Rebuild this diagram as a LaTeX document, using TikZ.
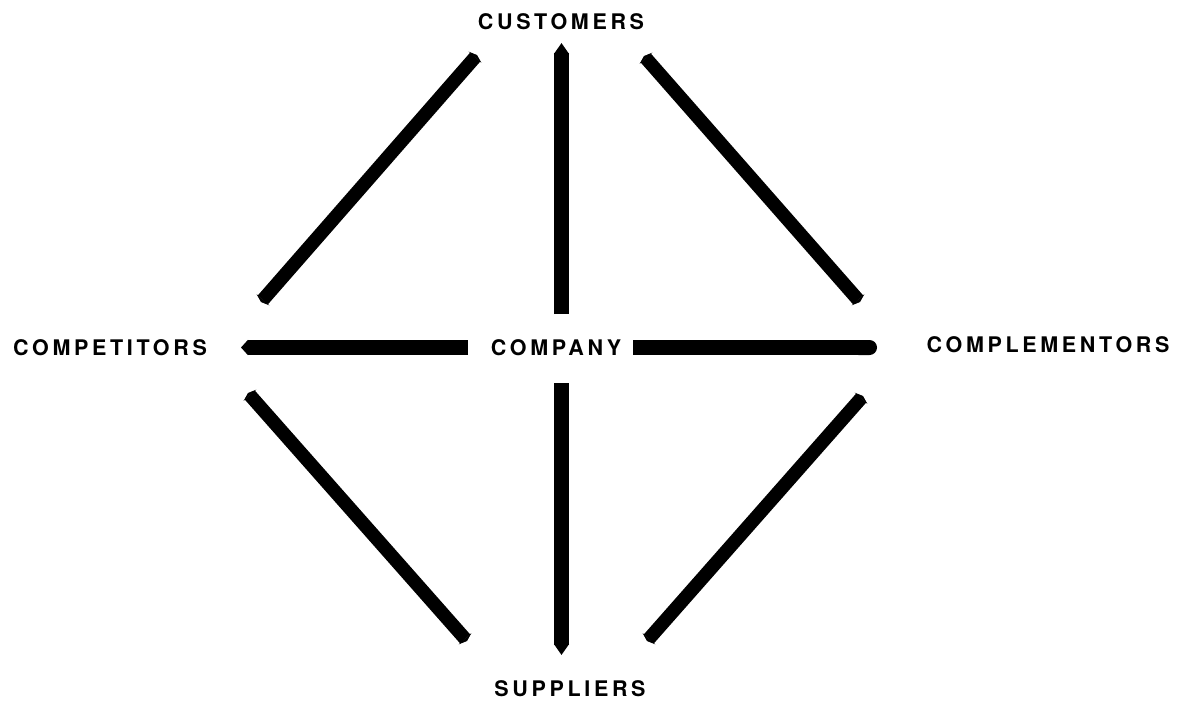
\documentclass[tikz,border=0pt]{standalone}
\usepackage{fontspec}
\setmainfont{TeX Gyre Heros}
\usetikzlibrary{arrows.meta}
\newfontfamily\labelfont[LetterSpace=17]{TeX Gyre Heros}
\begin{document}
\begin{tikzpicture}[x=1pt,y=-1pt,
  party/.style={font=\labelfont\fontsize{21.5pt}{25pt}\bfseries\selectfont,
    inner sep=0pt, text height=15.4pt, text depth=0pt, anchor=center},
  bar/.style={line width=14.5pt, black},
  slant/.style={line width=13.5pt, black,
    {Triangle[width=17pt,length=3pt]}-{Triangle[width=17pt,length=3pt]}}]
  \useasboundingbox[fill=white] (0,0) rectangle (1180,702);

  % the five parties
  \node[party] (cust) at (561,21.5) {CUSTOMERS};
  \node[party] (comp) at (110,347.5) {COMPETITORS};
  \node[party] (firm) at (556,348) {COMPANY};
  \node[party] (cmpl) at (1048,345) {COMPLEMENTORS};
  \node[party] (supp) at (570,689) {SUPPLIERS};

  % bar ends
  \coordinate (upS) at (561.5,314);
  \coordinate (upE) at (561.5,43);
  \coordinate (dnS) at (561.5,383);
  \coordinate (dnE) at (561.5,655);
  \coordinate (lfS) at (468,347.5);
  \coordinate (lfE) at (241,347.5);
  \coordinate (rtS) at (633,347.5);
  \coordinate (rtE) at (877,347.5);

  \coordinate (tlA) at (261,302);
  \coordinate (tlB) at (477,55);
  \coordinate (trA) at (644,56);
  \coordinate (trB) at (860,302);
  \coordinate (blA) at (248,393);
  \coordinate (blB) at (467,641);
  \coordinate (brA) at (863,396);
  \coordinate (brB) at (647,641);

  % straight arrows out of the company
  \draw[bar, -{Triangle[width=14.5pt,length=11pt]}] (upS) -- (upE);
  \draw[bar, -{Triangle[width=14.5pt,length=11pt]}] (dnS) -- (dnE);
  \draw[bar, line width=15pt, -{Triangle[width=15pt,length=7pt]}] (lfS) -- (lfE);
  \draw[bar, line width=15pt, -{Round Cap[]}] (rtS) -- (rtE);

  % diagonal links around the ring
  \draw[slant] (tlA) -- (tlB);
  \draw[slant] (trA) -- (trB);
  \draw[slant] (blA) -- (blB);
  \draw[slant] (brA) -- (brB);
\end{tikzpicture}
\end{document}
